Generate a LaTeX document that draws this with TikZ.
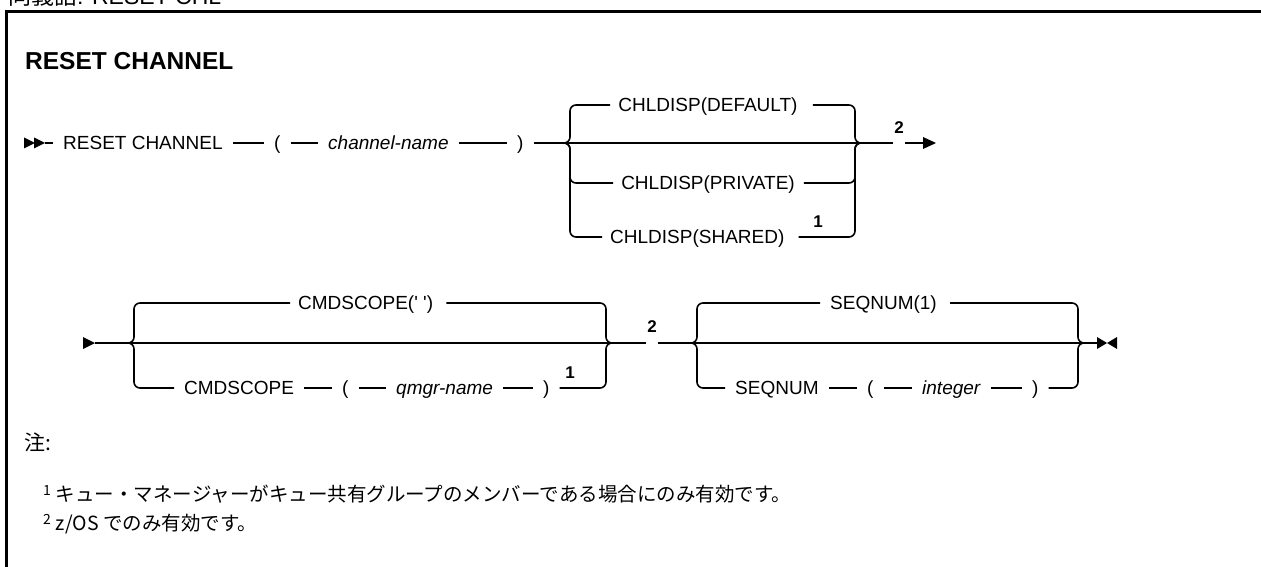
\documentclass[tikz,border=0pt]{standalone}
\usepackage{fontspec}
\setmainfont{Liberation Sans}
\newfontfamily\cjk{Noto Sans CJK JP}
\begin{document}
\begin{tikzpicture}[x=1pt,y=-1pt,
  tok/.style={inner sep=0pt, text height=13.6pt, text depth=0pt, anchor=west, font=\fontsize{19}{22}\selectfont},
  ctok/.style={tok, anchor=center},
  itok/.style={tok, font=\fontsize{19}{22}\selectfont\itshape},
  ln/.style={line width=1.6pt},
  link/.style={ln, shorten <=10pt, shorten >=10pt},
  rnd/.style={ln, rounded corners=6pt},
  fnum/.style={inner sep=0pt, font=\bfseries\fontsize{17}{17}\selectfont},
  notetxt/.style={anchor=west, inner sep=0pt, font=\cjk\fontsize{19.5}{20}\selectfont}]
\path[use as bounding box, fill=white] (0,0) rectangle (1261,567);
% header and frame
\node[anchor=base west, inner sep=0pt, font=\fontsize{23}{23}\selectfont] (hdr) at (8,5) {{\cjk 同義語}: RESET CHL};
\draw[line width=2.2pt] (1270,11.5) -- (6.5,11.5) -- (6.5,575);
\node[anchor=west, inner sep=0pt, font=\bfseries\fontsize{24.5}{24.5}\selectfont] (title) at (25,61) {RESET CHANNEL};
% ---------- row 1 ----------
\fill (24,137.5) -- (35,143) -- (24,148.5) -- cycle;
\fill (34,137.5) -- (45,143) -- (34,148.5) -- cycle;
\coordinate (s1) at (45,143);
\node[tok] (reset) at (63,143) {RESET CHANNEL};
\node[tok] (lp1) at (274,143) {(};
\node[itok] (chn) at (328,143) {channel-name};
\node[tok] (rp1) at (517,143) {)};
\coordinate (b1l) at (563,143);
\coordinate (v1l) at (570,143);
\coordinate (v1r) at (855,143);
\coordinate (b1r) at (862,143);
\node[ctok] (def) at (708,105) {CHLDISP(DEFAULT)};
\node[ctok] (priv) at (708,183) {CHLDISP(PRIVATE)};
\node[tok] (shr) at (610,237) {CHLDISP(SHARED)};
\node[fnum] (f1a) at (818,222) {1};
\coordinate (g1a) at (893,143);
\node[fnum] (f2a) at (899,128) {2};
\coordinate (g1b) at (905,143);
\coordinate (e1) at (924,143);
\draw[ln, shorten >=10pt] (s1) -- (reset.west);
\draw[link] (reset.east) -- (lp1.west);
\draw[link] (lp1.east) -- (chn.west);
\draw[link] (chn.east) -- (rp1.west);
\draw[ln, shorten <=10pt] (rp1.east) -- (b1l) -- (b1r) -- (g1a);
\draw[rnd, shorten >=8pt] (b1l) -- (v1l) |- (def.west);
\draw[rnd, shorten <=15pt] (def.east) -| (v1r) -- (b1r);
\draw[rnd, shorten >=8pt] (b1l) -- (v1l) |- (priv.west);
\draw[rnd, shorten <=9pt] (priv.east) -| (v1r) -- (b1r);
\draw[rnd, shorten >=8pt] (b1l) -- (v1l) |- (shr.west);
\draw[rnd, shorten <=14pt] (shr.east) -| (v1r) -- (b1r);
\draw[ln] (g1b) -- (e1);
\fill (923,137) -- (936,143) -- (923,149) -- cycle;
% ---------- row 2 ----------
\fill (83,337) -- (95,343) -- (83,349) -- cycle;
\coordinate (s2) at (95,343);
\coordinate (b2l) at (127,343);
\coordinate (v2l) at (134,343);
\coordinate (v2r) at (606,343);
\coordinate (b2r) at (613,343);
\node[tok] (cs1) at (298,303) {CMDSCOPE(\textquotesingle\ \textquotesingle)};
\node[tok] (cs2) at (184,388) {CMDSCOPE};
\node[tok] (lp2) at (342,388) {(};
\node[itok] (qm) at (396,388) {qmgr-name};
\node[tok] (rp2) at (543,388) {)};
\node[fnum] (f1b) at (570,373) {1};
\coordinate (g2a) at (646,343);
\node[fnum] (f2b) at (652,327) {2};
\coordinate (g2b) at (658,343);
\coordinate (b3l) at (690,343);
\coordinate (v3l) at (697,343);
\coordinate (v3r) at (1078,343);
\coordinate (b3r) at (1085,343);
\node[tok] (sq1) at (830,303) {SEQNUM(1)};
\node[tok] (sq2) at (735,388) {SEQNUM};
\node[tok] (lp3) at (867,388) {(};
\node[itok] (intg) at (922,388) {integer};
\node[tok] (rp3) at (1032,388) {)};
\coordinate (e2) at (1097,343);
\draw[ln] (s2) -- (b2l) -- (b2r) -- (g2a);
\draw[ln] (g2b) -- (b3l) -- (b3r) -- (e2);
\draw[rnd, shorten >=8pt] (b2l) -- (v2l) |- (cs1.west);
\draw[rnd, shorten <=13pt] (cs1.east) -| (v2r) -- (b2r);
\draw[rnd, shorten >=10pt] (b2l) -- (v2l) |- (cs2.west);
\draw[link] (cs2.east) -- (lp2.west);
\draw[link] (lp2.east) -- (qm.west);
\draw[link] (qm.east) -- (rp2.west);
\draw[rnd, shorten <=10pt] (rp2.east) -| (v2r) -- (b2r);
\draw[rnd, shorten >=10pt] (b3l) -- (v3l) |- (sq1.west);
\draw[rnd, shorten <=13pt] (sq1.east) -| (v3r) -- (b3r);
\draw[rnd, shorten >=10pt] (b3l) -- (v3l) |- (sq2.west);
\draw[link] (sq2.east) -- (lp3.west);
\draw[link] (lp3.east) -- (intg.west);
\draw[link] (intg.east) -- (rp3.west);
\draw[rnd, shorten <=10pt] (rp3.east) -| (v3r) -- (b3r);
\fill (1097,337) -- (1107,343) -- (1097,349) -- cycle;
\fill (1117,337) -- (1107,343) -- (1117,349) -- cycle;
% ---------- notes ----------
\node[anchor=west, inner sep=0pt, font=\cjk\fontsize{21}{21}\selectfont] (nt) at (24,442) {注:};
\node[notetxt] (n1) at (43,494) {\raisebox{6pt}{\fontsize{14}{14}\selectfont 1}\hspace{5pt}キュー・マネージャーがキュー共有グループのメンバーである場合にのみ有効です。};
\node[notetxt] (n2) at (43,524) {\raisebox{6pt}{\fontsize{14}{14}\selectfont 2}\hspace{5pt}z/OS でのみ有効です。};
\end{tikzpicture}
\end{document}
